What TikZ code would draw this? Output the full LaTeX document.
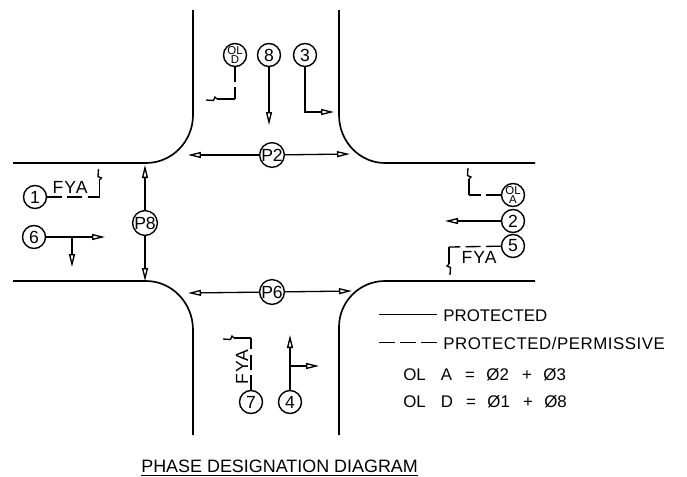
\documentclass[tikz,border=0pt]{standalone}
\usepackage{fontspec}
\setmainfont{Liberation Sans}
\usepackage{amsmath}
\usetikzlibrary{positioning,arrows.meta,calc}
\newfontfamily\cadfont[LetterSpace=3]{Liberation Sans}
\newfontfamily\fyafont[LetterSpace=6]{Liberation Sans}
\tikzset{
  road/.style={line width=0.95pt},
  mvt/.style={-{Triangle[open,length=2.6mm,width=1.2mm]},line width=0.75pt},
  plainln/.style={line width=0.75pt},
  ppdash/.style={line width=0.75pt,dash pattern=on 8.5pt off 3pt},
  legln/.style={line width=0.55pt},
  phase/.style={circle,draw=black,fill=white,inner sep=0pt,minimum size=0.46cm,line width=0.8pt,font=\fontsize{10}{10}\selectfont},
  olphase/.style={phase,font=\fontsize{6.5}{5}\selectfont,align=center},
  lblnode/.style={font=\fontsize{9.6}{10}\selectfont,inner sep=0pt,anchor=west},
  fyalbl/.style={font=\fontsize{10}{10}\selectfont\fyafont,inner sep=0pt},
  % ---- flashing yellow arrow head ----
  bolt/.pic={\draw[line width=0.75pt,line join=miter] (0,0) -- (2,2) -- (3.5,-1.5) -- (11,-1);},
}

\begin{document}
\begin{tikzpicture}[x=0.02cm,y=-0.02cm]
  \useasboundingbox (0,0) rectangle (687,477);
  % curb lines
  \draw[road] (13,163) -- (146,163) arc[start angle=90,end angle=0,x radius=47,y radius=48] -- (193,10);
  \draw[road] (339,10) -- (339,115) arc[start angle=180,end angle=90,x radius=46,y radius=48] -- (535,163);
  \draw[road] (13,281) -- (146,281) arc[start angle=-90,end angle=0,x radius=47,y radius=49] -- (193,435);
  \draw[road] (339,435) -- (339,327) arc[start angle=180,end angle=270,x radius=46,y radius=46] -- (535,281);

  % phase circles
  \foreach \i/\x/\y in {1/35/197,6/34/237,8/269/55,3/305/55,2/513/221,5/513/246,7/251/402,4/290/402}{
    \node[phase] (ph\i) at (\x,\y) {\i};
  }
  \foreach \i/\x/\y in {P2/272/155,P6/272/292,P8/145/223}{
    \node[phase] (\i) at (\x,\y) {\i};
  }
  \node[olphase] (olD) at (235,55) {OL\\D};
  \node[olphase] (olA) at (513,195) {OL\\A};

  % pedestrian phases
  \coordinate (p2l) at (188,155);
  \coordinate (p2r) at (350,154);
  \coordinate (p6l) at (188,293);
  \coordinate (p6r) at (352,291);
  \coordinate (p8t) at (145,165);
  \coordinate (p8b) at (145,281);
  \foreach \a/\b in {P2/p2l,P2/p2r,P6/p6l,P6/p6r,P8/p8t,P8/p8b}{
    \draw[mvt] (\a) -- (\b);
  }

  % through and right turn phases
  \coordinate (t8) at (269,125);
  \coordinate (t2) at (445,221);
  \coordinate (c3) at (305,112);
  \coordinate (t3) at (334,112);
  \coordinate (t6) at (105,237);
  \coordinate (b6) at (72,237);
  \coordinate (d6) at (72,267);
  \coordinate (t4) at (290,335);
  \coordinate (b4) at (290,366);
  \coordinate (r4) at (319,366);
  \draw[mvt] (ph8) -- (t8);
  \draw[mvt] (ph2) -- (t2);
  \draw[mvt] (ph3) -- (c3) -- (t3);
  \draw[mvt] (ph6) -- (t6);
  \draw[mvt] (b6) -- (d6);
  \draw[mvt] (ph4) -- (t4);
  \draw[mvt] (b4) -- (r4);

  % protected/permissive phases
  \coordinate (c1) at (99.5,197);
  \coordinate (e1) at (99.5,180);
  \coordinate (cD) at (235,99);
  \coordinate (eD) at (217,99);
  \coordinate (cA) at (469,195);
  \coordinate (eA) at (469,179);
  \coordinate (c5) at (449,247);
  \coordinate (e5) at (449,264);
  \coordinate (c7) at (251,338);
  \coordinate (e7) at (234,338);
  \draw[ppdash] (ph1) -- (c1);
  \draw[plainln] (c1) -- (e1);
  \pic[rotate=90] at (e1) {bolt};
  \draw[ppdash] (olD) -- (cD);
  \draw[plainln] (cD) -- (eD);
  \pic[rotate=180] at (eD) {bolt};
  \draw[ppdash] (olA) -- (cA);
  \draw[plainln] (cA) -- (eA);
  \pic[rotate=90] at (eA) {bolt};
  \draw[ppdash] (ph5) -- (c5);
  \draw[plainln] (c5) -- (e5);
  \pic[rotate=-90] at (e5) {bolt};
  \draw[ppdash] (ph7) -- (c7);
  \draw[plainln] (c7) -- (e7);
  \pic[rotate=180] at (e7) {bolt};

  % FYA labels
  \node[fyalbl] (fya1) at (70,187) {FYA};
  \node[fyalbl] (fya5) at (479,257) {FYA};
  \node[fyalbl,rotate=90] (fya7) at (242,367) {FYA};

  % legend
  \node[lblnode] (prot) at (443,316) {PROTECTED};
  \node[lblnode,font=\fontsize{9.6}{10}\selectfont\cadfont] (perm) at (443,343) {PROTECTED/PERMISSIVE};
  \coordinate (ls) at (379,314);
  \coordinate (le) at (437,314);
  \coordinate (ld) at (379,342);
  \coordinate (lf) at (437,342);
  \draw[legln] (ls) -- (le);
  \draw[legln,dash pattern=on 9pt off 3pt] (ld) -- (lf);
  \node[lblnode] (eqA) at (403,375) {OL\hspace{8.5pt}A\hspace{7.5pt}=\hspace{6.5pt}\O2\hspace{7.5pt}+\hspace{6.5pt}\O3};
  \node[lblnode] (eqD) at (403,402) {OL\hspace{8.5pt}D\hspace{7.5pt}=\hspace{6.5pt}\O1\hspace{7.5pt}+\hspace{6.5pt}\O8};
  \node[lblnode,font=\fontsize{10.2}{11}\selectfont] (title) at (141,468) {\underline{PHASE DESIGNATION DIAGRAM}};
\end{tikzpicture}
\end{document}
